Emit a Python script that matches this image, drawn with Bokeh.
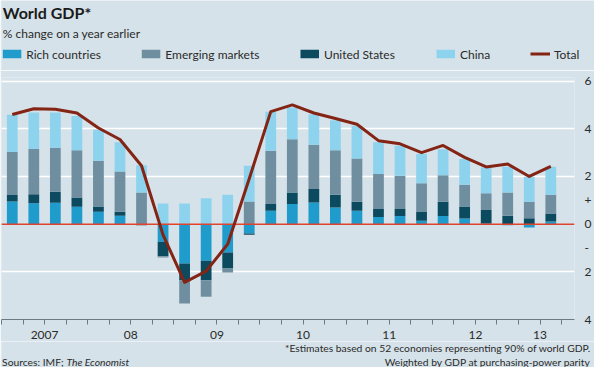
from bokeh.plotting import figure
from bokeh.models import Range1d, FixedTicker, Span, Label
from bokeh.layouts import column
from bokeh.embed import file_html
from bokeh.resources import INLINE

# ---------------- data ----------------
quarters = ["2007Q1", "2007Q2", "2007Q3", "2007Q4",
            "2008Q1", "2008Q2", "2008Q3", "2008Q4",
            "2009Q1", "2009Q2", "2009Q3", "2009Q4",
            "2010Q1", "2010Q2", "2010Q3", "2010Q4",
            "2011Q1", "2011Q2", "2011Q3", "2011Q4",
            "2012Q1", "2012Q2", "2012Q3", "2012Q4",
            "2013Q1", "2013Q2"]
year_labels = {"2007": "2007", "2008": "08", "2009": "09", "2010": "10",
               "2011": "11", "2012": "12", "2013": "13"}

rich = [0.95, 0.88, 0.90, 0.73, 0.52, 0.35, 0.00, -0.74, -1.65, -1.54, -1.19, -0.39,
        0.56, 0.84, 0.91, 0.70, 0.56, 0.30, 0.34, 0.14, 0.34, 0.24, 0.03, -0.05, -0.14, 0.11]
us = [0.27, 0.37, 0.46, 0.39, 0.22, 0.17, -0.05, -0.61, -0.70, -0.81, -0.67, -0.06,
      0.28, 0.49, 0.56, 0.53, 0.38, 0.33, 0.29, 0.39, 0.60, 0.50, 0.56, 0.35, 0.25, 0.34]
emerging = [1.81, 1.90, 1.84, 1.98, 1.92, 1.69, 1.33, -0.05, -0.98, -0.70, -0.17, 0.95,
            2.24, 2.23, 1.86, 1.87, 1.81, 1.47, 1.40, 1.18, 1.11, 0.91, 0.71, 0.98, 0.69, 0.78]
china = [1.56, 1.53, 1.48, 1.44, 1.30, 1.22, 1.14, 0.87, 0.87, 1.09, 1.23, 1.50,
         1.63, 1.33, 1.28, 1.26, 1.38, 1.33, 1.26, 1.23, 1.09, 1.08, 1.08, 1.08, 1.05, 1.18]
total = [4.60, 4.84, 4.82, 4.66, 4.03, 3.55, 2.45, -0.45, -2.44, -1.97, -0.84, 1.90,
         4.72, 5.00, 4.66, 4.43, 4.19, 3.50, 3.37, 3.00, 3.30, 2.80, 2.40, 2.52, 2.00, 2.42]

series_names = ["Rich countries", "Emerging markets", "United States", "China", "Total"]

y_ticks = [-4, -2, -1, 0, 1, 2, 4, 6]
y_tick_text = ["4", "2", "-", "0", "+", "2", "4", "6"]
grid_levels = [-2, 2, 4, 6]

title_text = "World GDP*"
subtitle_text = "% change on a year earlier"
note1 = "*Estimates based on 52 economies representing 90% of world GDP."
note2 = "Weighted by GDP at purchasing-power parity"
source1 = "Sources: IMF;"
source2 = "The Economist"

# ---------------- style ----------------
BG = "#d6e2e9"
C_RICH = "#1f9bcc"
C_EM = "#6f8fa0"
C_US = "#0c4a5f"
C_CHINA = "#8ed3ee"
C_TOTAL = "#832414"
C_ZERO = "#e0442c"
TXT = "#2a2a2a"
FONT = "Lato"
legend_colors = [C_RICH, C_EM, C_US, C_CHINA, C_TOTAL]

W = 594
HEAD_H, MAIN_H, FOOT_H = 70, 271, 26
FL, FR, FT, FB = 1, 577, 7, 249       # main frame, in main-figure pixels
X0, X1 = -0.5, 26.1
Y0, Y1 = -4, 6.15

# legend layout (header pixels): swatch left edges, swatch size, text gap
LEG_X = [1.3, 140.3, 299, 435, 529]
LEG_W, LEG_H, LEG_Y, LEG_GAP = 18.5, 8.5, 53.5, 5


def plain_fig(h):
    f = figure(frame_width=W, frame_height=h, x_range=Range1d(0, W), y_range=Range1d(h, 0),
               x_axis_location=None, y_axis_location=None, output_backend="svg",
               toolbar_location=None, title=None, min_border=0, min_border_left=0,
               min_border_right=0, min_border_top=0, min_border_bottom=0,
               background_fill_color=BG, border_fill_color=BG, outline_line_color=None)
    f.xgrid.visible = False
    f.ygrid.visible = False
    return f


def lab(f, x, y, text, size, align="left", style="normal", color=TXT):
    f.add_layout(Label(x=x, y=y, text=text, text_font=FONT, text_font_size=size,
                       text_font_style=style, text_align=align, text_baseline="middle",
                       text_color=color))


# ---------------- header ----------------
head = plain_fig(HEAD_H)
lab(head, 1.3, 11.7, title_text, "16px", style="bold", color="#1a1a1a")
lab(head, 1.3, 33, subtitle_text, "12px")
# legend: four colour boxes and one line sample, each followed by its name
head.quad(left=LEG_X[:4], right=[x + LEG_W for x in LEG_X[:4]],
          top=[LEG_Y - LEG_H / 2] * 4, bottom=[LEG_Y + LEG_H / 2] * 4,
          fill_color=legend_colors[:4], line_color=None)
head.segment(x0=[LEG_X[4]], x1=[LEG_X[4] + LEG_W + 1], y0=[LEG_Y], y1=[LEG_Y],
             line_color=C_TOTAL, line_width=3)
for x, nm in zip(LEG_X, series_names):
    lab(head, x + LEG_W + LEG_GAP, LEG_Y, nm, "12px")

# ---------------- main chart ----------------
p = figure(width=W, height=MAIN_H, x_range=Range1d(X0, X1), y_range=Range1d(Y0, Y1),
           y_axis_location="right", output_backend="svg", toolbar_location=None,
           title=None, min_border_left=FL, min_border_right=W - FR,
           min_border_top=FT, min_border_bottom=MAIN_H - FB,
           background_fill_color=BG, border_fill_color=BG, outline_line_color=None)

n = len(quarters)
xs = list(range(n))

# stacked bars: positives stack upwards, negatives downwards
pos_base = [0.0] * n
neg_base = [0.0] * n
for series, color in [(rich, C_RICH), (us, C_US), (emerging, C_EM), (china, C_CHINA)]:
    bottoms, tops = [], []
    for i, v in enumerate(series):
        if v >= 0:
            bottoms.append(pos_base[i]); tops.append(pos_base[i] + v); pos_base[i] += v
        else:
            tops.append(neg_base[i]); bottoms.append(neg_base[i] + v); neg_base[i] += v
    p.vbar(x=xs, bottom=bottoms, top=tops, width=0.5, fill_color=color, line_color=None)

p.add_layout(Span(location=0, dimension="width", line_color=C_ZERO, line_width=1.5))

tl = p.line(xs, total, line_color=C_TOTAL, line_width=3, line_join="round")
tl.level = "overlay"

p.xgrid.visible = False
p.ygrid.ticker = FixedTicker(ticks=grid_levels)
p.ygrid.grid_line_color = "white"
p.ygrid.grid_line_width = 1.5

years = []
for q in quarters:
    if q[:4] not in years:
        years.append(q[:4])
year_pos = []
for yname in years:
    idx = [i for i, q in enumerate(quarters) if q.startswith(yname)]
    year_pos.append(sum(idx) / len(idx))
xa = p.xaxis[0]
xa.ticker = FixedTicker(ticks=year_pos, minor_ticks=[i - 0.5 for i in range(n + 1)])
xa.major_label_overrides = {pos: year_labels[yn] for pos, yn in zip(year_pos, years)}
xa.major_tick_in = 0
xa.major_tick_out = 0
xa.minor_tick_in = 0
xa.minor_tick_out = 5
xa.minor_tick_line_color = "#6b7b84"
xa.axis_line_color = "#6b7b84"
xa.major_label_standoff = 6
xa.major_label_text_font = FONT
xa.major_label_text_font_size = "12px"
xa.major_label_text_color = TXT

ya = p.yaxis[0]
ya.ticker = FixedTicker(ticks=y_ticks)
ya.major_label_overrides = dict(zip(y_ticks, y_tick_text))
ya.axis_line_color = None
ya.major_tick_line_color = None
ya.minor_tick_line_color = None
ya.major_label_standoff = 4
ya.major_label_text_font = FONT
ya.major_label_text_font_size = "12px"
ya.major_label_text_color = TXT

# ---------------- footer ----------------
foot = plain_fig(FOOT_H)
lab(foot, 589, 6, note1, "10.3px", align="right")
lab(foot, 589, 20, note2, "10.3px", align="right")
lab(foot, 0.6, 20, source1, "10.3px")
lab(foot, 65, 20, source2, "10.3px", style="italic")

layout = column(head, p, foot, spacing=0)
open("out.html", "w").write(file_html(layout, INLINE))
